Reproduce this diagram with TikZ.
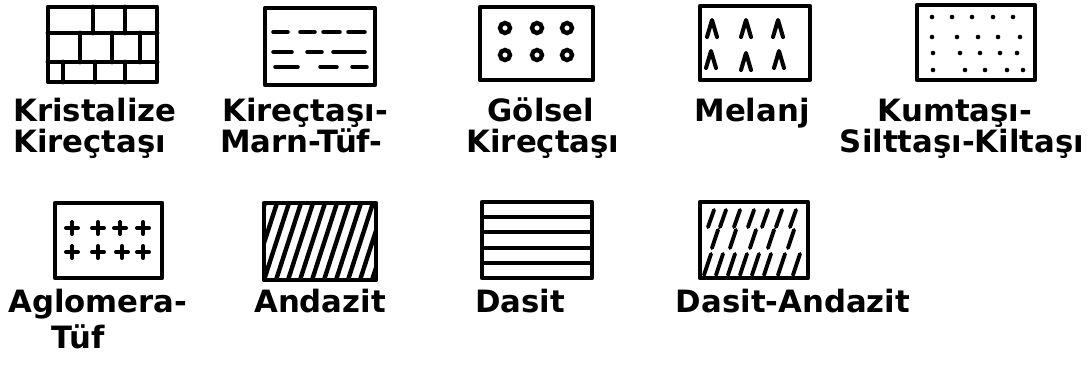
\documentclass[tikz,border=0pt]{standalone}
\usepackage{fontspec}
\setmainfont{DejaVu Sans}
\begin{document}
\begin{tikzpicture}[x=0.02cm,y=-0.02cm,
  kutu/.style={line width=2.4pt,line join=round},
  desen/.style={line width=2pt,line cap=round},
  yazi/.style={font=\fontsize{17.5pt}{21pt}\selectfont\bfseries,inner sep=0pt}]
  \useasboundingbox (0,0) rectangle (1091,366);
  % Kristalize kirectasi (tugla)
  \draw[desen,line width=2.8pt] (48,33) -- (157,33) (48,62) -- (157,62);
  \foreach \x in {93,125}
    \draw[desen,line width=2.8pt] (\x,7) -- (\x,33);
  \foreach \x in {80,112,140}
    \draw[desen,line width=2.8pt] (\x,33) -- (\x,62);
  \foreach \x in {63,95,125}
    \draw[desen,line width=2.8pt] (\x,62) -- (\x,82);
  \draw[kutu,line width=2.8pt] (48,7) rectangle (157,82);
  % Kirectasi-marn-tuf (kesik cizgiler)
  \foreach \a/\b/\y in {273/288/32,300/315/32,323/340/32,348/365/32,
                        273/292/52,307/322/52,333/365/52,
                        275/298/67,320/337/67,352/367/67}
    \draw[desen] (\a,\y) -- (\b,\y);
  \draw[kutu] (265,8) rectangle (375,85);
  % Golsel kirectasi (halkalar)
  \foreach \x/\y in {505/28,537/28,567/28,505/55,537/55,567/55}
    \draw[line width=2.5pt] (\x,\y) circle (5);
  \draw[kutu] (480,7) rectangle (593,80);
  % Melanj
  \foreach \x/\y in {712/20,746/20,778/20,711/51,746/53,779/51}
    \draw[desen,line width=2.3pt,line join=round] (\x-5,\y+17) -- (\x,\y) -- (\x+5,\y+17);
  \draw[kutu] (700,6) rectangle (810,80);
  % Kumtasi-silttasi-kiltasi (noktalar)
  \foreach \x/\y in {932/17,952/17,972/17,993/17,1013/17,
                     932/37,957/37,978/37,998/37,1020/37,
                     933/53,960/53,980/53,1000/53,1017/53,
                     933/70,965/70,985/70,1007/70,1023/70}
    \fill (\x,\y) circle (2.3);
  \draw[kutu] (917,5) rectangle (1035,80);
  % Aglomera-tuf (arti)
  \foreach \x/\y in {72/228,98/228,120/228,143/228,72/252,98/252,122/252,143/252}
    \draw[desen,line width=2.3pt] (\x-6,\y) -- (\x+6,\y) (\x,\y-6) -- (\x,\y+6);
  \draw[kutu] (55,203) rectangle (162,278);
  % Andazit (egik tarama)
  \begin{scope}
    \clip (264,203) rectangle (376,280);
    \foreach \i in {0,...,11}
      \draw[line width=2.5pt] (240+\i*12,280) -- ++(25,-77);
  \end{scope}
  \draw[kutu] (264,203) rectangle (376,280);
  % Dasit (yatay cizgiler)
  \foreach \y in {217,232,248,263}
    \draw[line width=2.3pt] (482,\y) -- (592,\y);
  \draw[kutu] (482,202) rectangle (592,278);
  % Dasit-andazit (kesik egik tarama)
  \begin{scope}
    \clip (700,202) rectangle (808,278);
    \foreach \x in {708,720,734,748,762,776,790}
      \draw[desen,line width=2.2pt] (\x,227) -- ++(6,-17);
    \foreach \x in {712,730,750,768,788}
      \draw[desen,line width=2.2pt] (\x,248) -- ++(6,-18);
    \foreach \x in {704,716,728,740,752,764,778,793}
      \draw[desen,line width=2.2pt] (\x,275) -- ++(7,-21);
  \end{scope}
  \draw[kutu] (700,202) rectangle (808,278);
  % Labels
  \node[yazi,anchor=base west] (kristalizeA) at (13,121) {Kristalize};
  \node[yazi,anchor=base west] (kristalizeB) at (13,152) {Kireçtaşı};
  \node[yazi,anchor=base west] (marnA) at (222,121) {Kireçtaşı-};
  \node[yazi,anchor=base west] (marnB) at (220,152) {Marn-Tüf-};
  \node[yazi,anchor=base] (golselA) at (541,121) {Gölsel};
  \node[yazi,anchor=base] (golselB) at (543,152) {Kireçtaşı};
  \node[yazi,anchor=base] (melanj) at (752,121) {Melanj};
  \node[yazi,anchor=base] (kumtasiA) at (955,121) {Kumtaşı-};
  \node[yazi,anchor=base] (kumtasiB) at (962,152) {Silttaşı-Kiltaşı};
  \node[yazi,anchor=base west] (aglomeraA) at (8,312) {Aglomera-};
  \node[yazi,anchor=base] (aglomeraB) at (78,348) {Tüf};
  \node[yazi,anchor=base] (andazit) at (320,312) {Andazit};
  \node[yazi,anchor=base] (dasit) at (520,312) {Dasit};
  \node[yazi,anchor=base] (dasitandazit) at (793,312) {Dasit-Andazit};
\end{tikzpicture}
\end{document}
